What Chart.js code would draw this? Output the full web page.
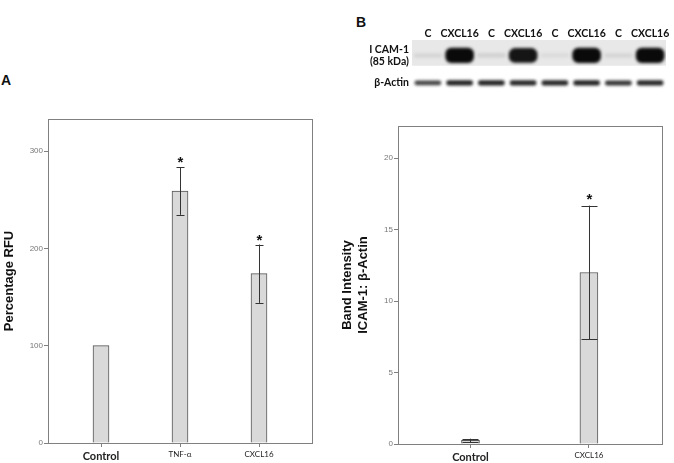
<!DOCTYPE html>
<html>
<head>
<meta charset="utf-8">
<script src="https://cdn.jsdelivr.net/npm/chart.js@4"></script>
<style>
  body { margin: 0; background: #fff; }
  #wrap { position: relative; width: 674px; height: 463px; overflow: hidden; }
  canvas { position: absolute; }
  .panel { position: absolute; font: bold 14px "Liberation Sans", Arial, sans-serif; line-height: 1; color: #111; }
</style>
</head>
<body>
<div id="wrap">
  <div class="panel" style="left:1px;top:73px">A</div>
  <div class="panel" style="left:356px;top:15px">B</div>
  <canvas id="rfu-chart" width="340" height="463" style="left:0;top:0"></canvas>
  <canvas id="blot-chart" width="334" height="110" style="left:340px;top:0"></canvas>
  <canvas id="band-chart" width="336" height="353" style="left:338px;top:110px"></canvas>
</div>
<script>
// panel A
const rfuLabels = ["Control", "TNF-α", "CXCL16"];
const rfuMeans = [100, 259, 174];
const rfuErrors = [0, 24.5, 30];
const rfuSignif = [false, true, true];
const rfuTicks = [0, 100, 200, 300];

// panel B, densitometry
const bandLabels = ["Control", "CXCL16"];
const bandMeans = [0.25, 12.0];
const bandErrors = [0.12, 4.68];
const bandSignif = [false, true];
const bandTicks = [0, 5, 10, 15, 20];

// panel B, blot lanes
const laneLabels = ["C", "CXCL16", "C", "CXCL16", "C", "CXCL16", "C", "CXCL16"];
const icamBands = [0.1, 1, 0.12, 0.95, 0.08, 1, 0.1, 1];
const actinBands = [0.75, 0.9, 0.9, 0.88, 0.88, 0.9, 0.82, 0.88];
const blotRows = [["I CAM-1", "(85 kDa)"], "β-Actin"];

const AXIS = "#808080";
const SANS = "'Liberation Sans', Arial, sans-serif";

const boxPlugin = {
  id: "box",
  afterDraw(chart) {
    const { ctx, chartArea: a } = chart;
    ctx.save();
    ctx.strokeStyle = AXIS;
    ctx.lineWidth = 1;
    ctx.strokeRect(Math.round(a.left) + 0.5, Math.round(a.top) + 0.5,
      Math.round(a.right - a.left), Math.round(a.bottom - a.top));
    ctx.restore();
  }
};

const errorPlugin = {
  id: "errorBars",
  afterDatasetsDraw(chart, args, opts) {
    const { ctx } = chart;
    const y = chart.scales.y;
    const meta = chart.getDatasetMeta(0);
    ctx.save();
    ctx.strokeStyle = "#333";
    ctx.lineWidth = 1;
    meta.data.forEach((bar, i) => {
      const err = opts.errors[i];
      const top = y.getPixelForValue(opts.means[i] + err);
      const bot = y.getPixelForValue(opts.means[i] - err);
      const x = Math.round(bar.x) + 0.5;
      if (err > 0) {
        ctx.beginPath();
        ctx.moveTo(x, top); ctx.lineTo(x, bot);
        ctx.moveTo(x - opts.cap / 2, Math.round(top) + 0.5); ctx.lineTo(x + opts.cap / 2, Math.round(top) + 0.5);
        ctx.moveTo(x - opts.cap / 2, Math.round(bot) + 0.5); ctx.lineTo(x + opts.cap / 2, Math.round(bot) + 0.5);
        ctx.stroke();
      }
      if (opts.signif[i]) {
        ctx.fillStyle = "#111";
        ctx.font = "bold 15px " + SANS;
        ctx.textAlign = "center";
        ctx.textBaseline = "alphabetic";
        ctx.fillText("*", x, top + opts.starShift);
      }
    });
    ctx.restore();
  }
};

function barChart(id, labels, means, errors, signif, ticks, o) {
  return new Chart(document.getElementById(id), {
    type: "bar",
    data: {
      datasets: [{
        data: means.map((v, i) => ({ x: i + 1, y: v })),
        backgroundColor: "#d9d9d9",
        borderColor: "#555",
        borderWidth: 1,
        barThickness: o.barWidth,
      }],
    },
    options: {
      responsive: false,
      animation: false,
      layout: { padding: o.padding },
      plugins: {
        legend: { display: false },
        tooltip: { enabled: false },
        errorBars: { means, errors, signif, cap: o.cap, starShift: o.starShift },
      },
      scales: {
        x: {
          type: "linear",
          offset: false,
          min: o.xMin,
          max: o.xMax,
          afterBuildTicks: s => { s.ticks = labels.map((_, i) => ({ value: i + 1 })); },
          afterFit: s => { s.height = o.xHeight; },
          border: { display: false },
          grid: { offset: false, drawOnChartArea: false, tickLength: 4, color: AXIS },
          ticks: {
            padding: 3,
            color: "#222",
            maxRotation: 0,
            callback: (v, i) => labels[i],
            font: c => c.index === 0
              ? { family: "Lato, sans-serif", size: 11, weight: "bold" }
              : { family: "Lato, sans-serif", size: 8 },
          },
        },
        y: {
          min: 0,
          max: o.yMax,
          afterBuildTicks: s => { s.ticks = ticks.map(v => ({ value: v })); },
          afterFit: s => { s.width = o.yWidth; },
          border: { display: false },
          grid: { drawOnChartArea: false, tickLength: 4, color: AXIS },
          ticks: { padding: 1, color: "#777", font: { family: SANS, size: 8 } },
          title: {
            display: true,
            text: o.title,
            color: "#111",
            padding: { top: 2, bottom: 0 },
            font: { family: SANS, size: 13, weight: "bold", lineHeight: 1.2 },
          },
        },
      },
    },
    plugins: [boxPlugin, errorPlugin],
  });
}

barChart("rfu-chart", rfuLabels, rfuMeans, rfuErrors, rfuSignif, rfuTicks, {
  barWidth: 16, cap: 8, starShift: 0,
  xMin: 1 - 53 / 79, xMax: 3 + 53 / 79, yMax: 333,
  padding: { top: 119, right: 28, left: 0, bottom: 0 },
  xHeight: 20, yWidth: 48,
  title: "Percentage RFU",
});

barChart("band-chart", bandLabels, bandMeans, bandErrors, bandSignif, bandTicks, {
  barWidth: 18, cap: 16, starShift: -2,
  xMin: 1 - 72.4 / 118.3, xMax: 2 + 73 / 118.3, yMax: 22.25,
  padding: { top: 16, right: 12, left: 0, bottom: 0 },
  xHeight: 19, yWidth: 60,
  title: ["Band Intensity", "ICAM-1: β-Actin"],
});

// blot: lanes on x, vertical placement in px-like units 0..64
const ICAM_Y = 46, ACTIN_Y = 14, ICAM_BOX = [34, 64];
const grey = v => { const c = Math.round(236 - 226 * v); return `rgb(${c},${c},${c})`; };

const blotPlugin = {
  id: "blot",
  beforeDatasetsDraw(chart) {
    const { ctx, chartArea: a, scales: { y } } = chart;
    ctx.save();
    ctx.fillStyle = "#e8e8e8";
    const t = y.getPixelForValue(ICAM_BOX[1]), b = y.getPixelForValue(ICAM_BOX[0]);
    ctx.fillRect(a.left, t, a.right - a.left, b - t);
    ctx.filter = "blur(1.8px)";
  },
  afterDatasetsDraw(chart) {
    chart.ctx.restore();
  }
};

new Chart(document.getElementById("blot-chart"), {
  type: "bar",
  data: {
    labels: laneLabels,
    datasets: [
      {
        label: "ICAM-1",
        data: icamBands.map(v => { const h = 3 + 14 * v; return [ICAM_Y - h / 2, ICAM_Y + h / 2]; }),
        backgroundColor: icamBands.map(grey),
        borderRadius: 6,
        borderSkipped: false,
        barThickness: 28,
        grouped: false,
      },
      {
        label: "β-Actin",
        data: actinBands.map(v => { const h = 3 + 2.5 * v; return [ACTIN_Y - h / 2, ACTIN_Y + h / 2]; }),
        backgroundColor: actinBands.map(grey),
        borderRadius: 3,
        borderSkipped: false,
        barThickness: 26,
        grouped: false,
      },
    ],
  },
  options: {
    responsive: false,
    animation: false,
    layout: { padding: { top: 28, right: 8, left: 0, bottom: 6 } },
    plugins: { legend: { display: false }, tooltip: { enabled: false } },
    scales: {
      x: {
        position: "top",
        afterFit: s => { s.height = 12; },
        border: { display: false },
        grid: { display: false, drawTicks: false },
        ticks: { padding: 0, color: "#111", maxRotation: 0, autoSkip: false,
          font: { family: "Lato, sans-serif", size: 10.5, weight: "bold" } },
      },
      y: {
        min: 0,
        max: 64,
        afterBuildTicks: s => { s.ticks = [{ value: ICAM_Y }, { value: ACTIN_Y }]; },
        afterFit: s => { s.width = 72; },
        border: { display: false },
        grid: { display: false, drawTicks: false },
        ticks: { padding: 3, color: "#111", callback: (v, i) => blotRows[i],
          font: { family: "Lato, sans-serif", size: 10.5, weight: "bold", lineHeight: 1.15 } },
      },
    },
  },
  plugins: [blotPlugin],
});
</script>
</body>
</html>
